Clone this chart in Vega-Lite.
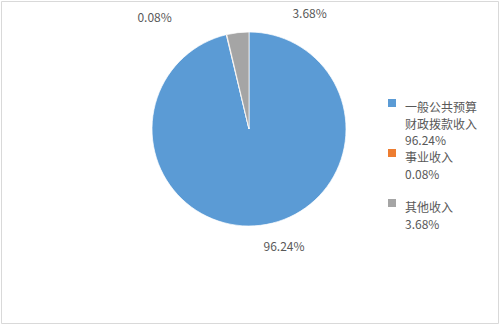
{
  "$schema": "https://vega.github.io/schema/vega-lite/v6.json",
  "width": 497,
  "height": 322,
  "autosize": "none",
  "padding": {"left": 1, "top": 1, "right": 2, "bottom": 3},
  "background": "white",
  "config": {
    "view": {"stroke": "#d9d9d9", "strokeWidth": 1},
    "font": "Noto Sans CJK SC",
    "style": {"guide-label": {"lineHeight": 16.5}}
  },
  "data": {
    "values": [
      {"name": "一般公共预算财政拨款收入", "value": 96.24, "label": "96.24%", "order": 1},
      {"name": "事业收入", "value": 0.08, "label": "0.08%", "order": 2},
      {"name": "其他收入", "value": 3.68, "label": "3.68%", "order": 3}
    ]
  },
  "layer": [
    {
      "mark": {"type": "rule", "opacity": 0},
      "encoding": {"y": {"datum": 0, "type": "quantitative", "axis": null}}
    },
    {
      "mark": {"type": "arc", "outerRadius": 97, "stroke": "white", "strokeWidth": 0.7, "xOffset": -0.5, "yOffset": -33},
      "encoding": {
        "theta": {"field": "value", "type": "quantitative", "stack": true},
        "order": {"field": "order", "type": "quantitative"},
        "color": {
          "field": "name",
          "type": "nominal",
          "sort": ["一般公共预算财政拨款收入", "事业收入", "其他收入"],
          "scale": {
            "domain": ["一般公共预算财政拨款收入", "事业收入", "其他收入"],
            "range": ["#5b9bd5", "#ed7d31", "#a5a5a5"]
          },
          "legend": {
            "title": null,
            "orient": "none",
            "legendX": 385,
            "legendY": 96,
            "padding": 0,
            "symbolType": "square",
            "symbolSize": 64,
            "symbolStrokeWidth": 0,
            "labelOffset": 7,
            "labelFontSize": 12,
            "labelColor": "#595959",
            "labelFont": "Noto Sans CJK SC",
            "labelLimit": 0,
            "labelBaseline": "top",
            "rowPadding": -1,
            "labelExpr": "datum.label == '一般公共预算财政拨款收入' ? ['一般公共预算', '财政拨款收入', '96.24%'] : datum.label == '事业收入' ? ['事业收入', '0.08%', ''] : ['其他收入', '3.68%', '']"
          }
        }
      }
    },
    {
      "mark": {"type": "text", "radius": 119, "fontSize": 12, "color": "#595959", "xOffset": -0.5, "yOffset": -33, "dx": 21},
      "encoding": {
        "theta": {"field": "value", "type": "quantitative", "stack": true},
        "order": {"field": "order", "type": "quantitative"},
        "text": {"condition": {"test": "datum.order == 1", "field": "label"}, "value": ""}
      }
    },
    {
      "mark": {"type": "text", "radius": 114, "fontSize": 12, "color": "#595959", "xOffset": -0.5, "yOffset": -33, "dx": -68},
      "encoding": {
        "theta": {"field": "value", "type": "quantitative", "stack": true},
        "order": {"field": "order", "type": "quantitative"},
        "text": {"condition": {"test": "datum.order == 2", "field": "label"}, "value": ""}
      }
    },
    {
      "mark": {"type": "text", "radius": 116, "fontSize": 12, "color": "#595959", "xOffset": -0.5, "yOffset": -33, "dx": 74},
      "encoding": {
        "theta": {"field": "value", "type": "quantitative", "stack": true},
        "order": {"field": "order", "type": "quantitative"},
        "text": {"condition": {"test": "datum.order == 3", "field": "label"}, "value": ""}
      }
    }
  ]
}
